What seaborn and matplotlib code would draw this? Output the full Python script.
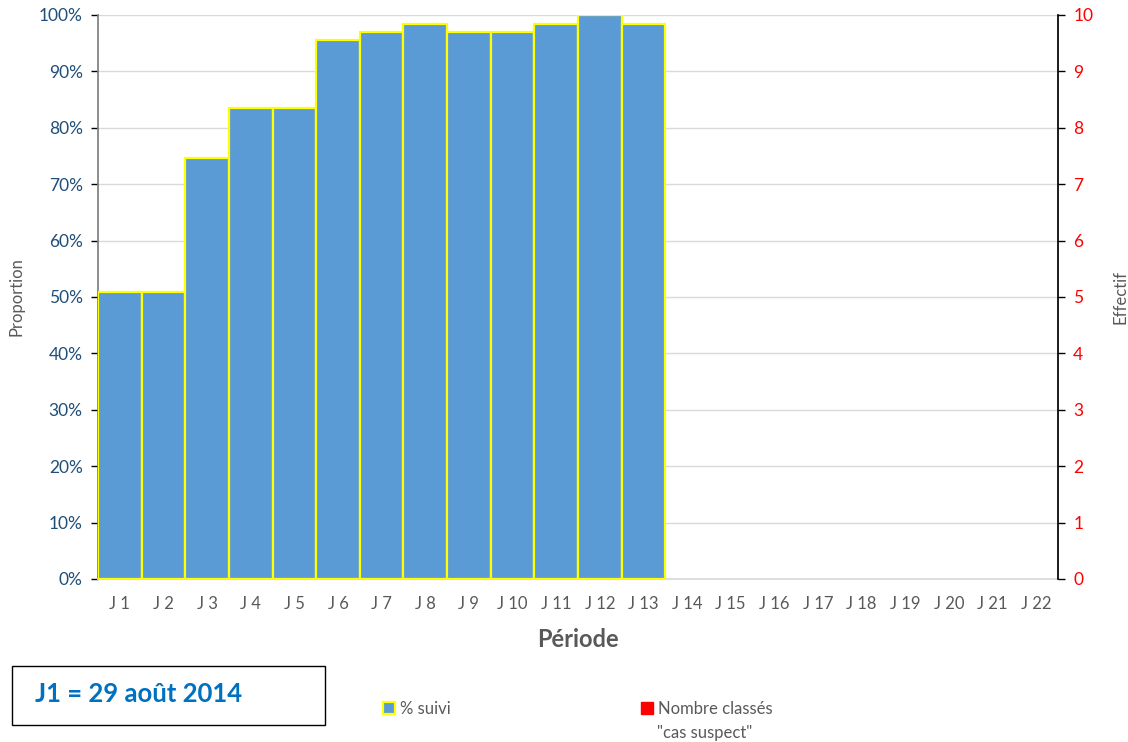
import matplotlib
matplotlib.use("Agg")
import matplotlib.pyplot as plt
from matplotlib.patches import Patch
from matplotlib.ticker import PercentFormatter
import seaborn as sns
import pandas as pd

# données
periodes = [f"J {i}" for i in range(1, 23)]
jours_suivis = periodes[:13]
pct_suivi = [50.8, 50.8, 74.6, 83.5, 83.5, 95.5, 97.0, 98.4, 97.0, 97.0, 98.4, 100.0, 98.4]
nb_suspects = []  # aucun cas suspect sur la période

bar_color = "#5B9BD5"
edge_color = "#FFFF00"
grey_text = "#595959"
blue_ticks = "#1F4E79"

sns.set_theme(style="white")
plt.rcParams["font.family"] = ["Lato", "DejaVu Sans"]

df = pd.DataFrame({"periode": jours_suivis, "pct": pct_suivi})

fig = plt.figure(figsize=(11.28, 7.42), dpi=100)
ax = fig.add_axes([0.0869, 0.2197, 0.851, 0.7601])

sns.barplot(data=df, x="periode", y="pct", order=periodes, color=bar_color,
            width=1.0, edgecolor=edge_color, linewidth=1.6, saturation=1,
            ax=ax, zorder=3)

ax.set_xlim(-0.5, len(periodes) - 0.5)
ax.set_ylim(0, 100)
ax.set_yticks(range(0, 101, 10))
ax.yaxis.set_major_formatter(PercentFormatter(decimals=0))
ax.grid(axis="y", color="#D9D9D9", linewidth=1, zorder=0)
ax.tick_params(axis="y", labelsize=12.5, length=5, width=1, left=True,
               pad=6, color="black", labelcolor=blue_ticks)
ax.tick_params(axis="x", labelcolor=grey_text, labelsize=12, length=0, pad=12)
for side in ["top", "right"]:
    ax.spines[side].set_visible(False)
ax.spines["left"].set_color("#808080")
ax.spines["bottom"].set_color("#D9D9D9")
ax.set_ylabel("Proportion", color=grey_text, fontsize=12, labelpad=10)
ax.set_xlabel("Période", color=grey_text, fontsize=17, fontweight="bold",
              labelpad=12)

# axe secondaire : effectif
ax2 = ax.twinx()
ax2.set_ylim(0, 10)
ax2.set_yticks(range(0, 11))
ax2.tick_params(axis="y", labelsize=12.5, length=5, width=1, right=True,
                pad=6, color="black", labelcolor="red")
for side in ["top", "left", "bottom"]:
    ax2.spines[side].set_visible(False)
ax2.spines["right"].set_color("black")
ax2.set_ylabel("Effectif", color=grey_text, fontsize=12, labelpad=14)
ax2.grid(False)

# encadré date
box = plt.Rectangle((12 / 1128, 1 - 725 / 742), 313 / 1128, 59 / 742,
                    transform=fig.transFigure, fill=False, edgecolor="black",
                    linewidth=1)
fig.add_artist(box)
fig.text(35 / 1128, 1 - 694 / 742, "J1 = 29 août 2014", color="#0070C0",
         fontsize=18.5, fontweight="bold", va="center", ha="left")

# légende
leg_kw = dict(loc="center left", frameon=False, fontsize=12,
              handlelength=0.7, handleheight=0.7, handletextpad=0.3,
              labelcolor=grey_text, borderaxespad=0, borderpad=0)
leg1 = fig.legend([Patch(facecolor=bar_color, edgecolor=edge_color,
                         linewidth=1.6)], ["% suivi"],
                  bbox_to_anchor=(383 / 1128, 1 - 709 / 742), **leg_kw)
leg2 = fig.legend([Patch(facecolor="red", edgecolor="red")],
                  ["Nombre classés"],
                  bbox_to_anchor=(641 / 1128, 1 - 709 / 742), **leg_kw)
fig.text(657 / 1128, 1 - 733 / 742, "\"cas suspect\"", color=grey_text,
         fontsize=12, va="center", ha="left")

fig.savefig("out.png", dpi=100)
